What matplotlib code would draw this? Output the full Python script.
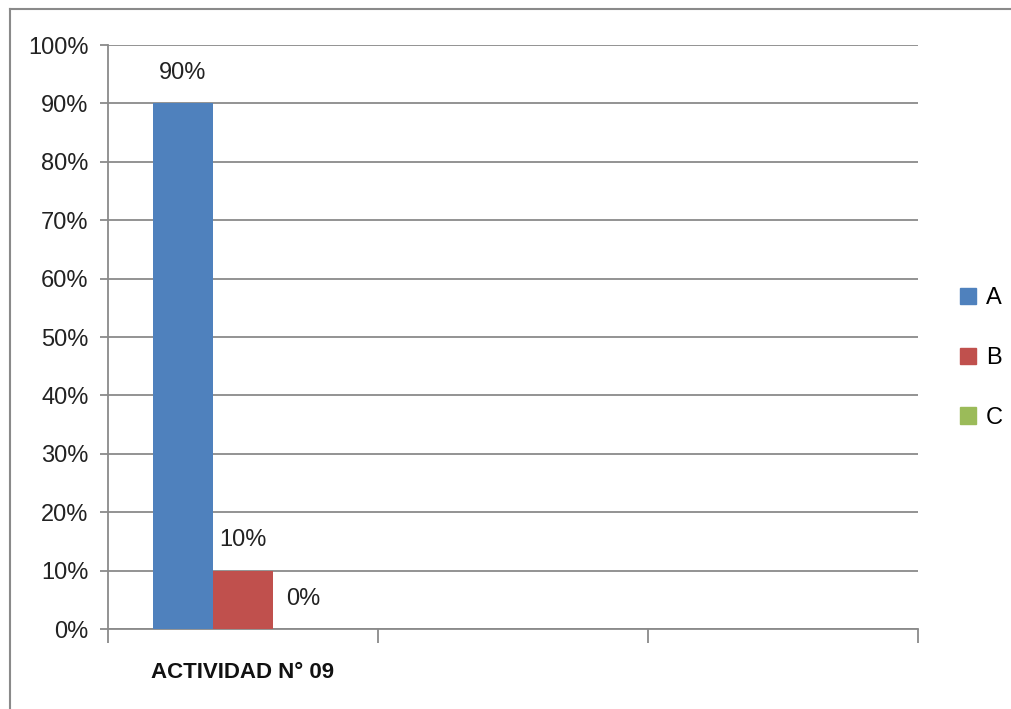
import matplotlib
matplotlib.use("Agg")
import matplotlib.pyplot as plt
from matplotlib.lines import Line2D
from matplotlib.patches import Rectangle
import numpy as np

categories = ["ACTIVIDAD N° 09", "", ""]
series_names = ["A", "B", "C"]
values_A = [0.90, None, None]
values_B = [0.10, None, None]
values_C = [0.00, None, None]
colors = ["#4F81BD", "#C0504D", "#9BBB59"]
yticks = [0, 0.1, 0.2, 0.3, 0.4, 0.5, 0.6, 0.7, 0.8, 0.9, 1.0]
ytick_labels = ["0%", "10%", "20%", "30%", "40%", "50%", "60%", "70%", "80%", "90%", "100%"]

plt.rcParams['font.family'] = ['Liberation Sans Narrow', 'Liberation Sans', 'DejaVu Sans']

fig = plt.figure(figsize=(10.11, 7.09), dpi=100)
ax = fig.add_axes([0.1068, 0.1128, 0.8012, 0.8237])

x = np.arange(len(categories))
width = 0.222
all_series = [values_A, values_B, values_C]
for i, (vals, name, col) in enumerate(zip(all_series, series_names, colors)):
    xs = [xi + (i - 1) * width for xi, v in zip(x, vals) if v is not None]
    vs = [v for v in vals if v is not None]
    bars = ax.bar(xs, vs, width=width, color=col, label=name, zorder=3)
    for b, v in zip(bars, vs):
        ax.annotate(f"{v*100:.0f}%", (b.get_x() + b.get_width() / 2, v),
                    xytext=(0, 14), textcoords="offset points",
                    ha="center", va="bottom", fontsize=17, color="#222222")

ax.set_xlim(-0.5, len(categories) - 0.5)
ax.set_ylim(0, 1.0)
ax.set_yticks(yticks)
ax.set_yticklabels(ytick_labels, fontsize=17, color="#222222")
ax.yaxis.grid(True, color="#8a8a8a", linewidth=1.3, zorder=0)
ax.set_axisbelow(True)

ax.set_xticks(np.arange(-0.5, len(categories)), minor=False)
ax.set_xticklabels([])
ax.set_xticks(x, minor=True)
ax.set_xticklabels(categories, minor=True, fontsize=16, fontweight="bold", color="#111111")
ax.tick_params(axis="x", which="major", length=10, width=1.3, color="#8a8a8a")
ax.tick_params(axis="x", which="minor", length=0, pad=24)
ax.tick_params(axis="y", length=6, width=1.3, color="#8a8a8a", pad=8)

for s in ["top", "right"]:
    ax.spines[s].set_visible(False)
for s in ["left", "bottom"]:
    ax.spines[s].set_color("#8a8a8a")
    ax.spines[s].set_linewidth(1.3)

handles = [Rectangle((0, 0), 1, 1, color=c) for c in colors]
leg = fig.legend(handles, series_names, loc="center left", bbox_to_anchor=(0.933, 0.495),
                 frameon=False, fontsize=17, handlelength=0.7, handleheight=0.7,
                 labelspacing=1.6, handletextpad=0.4, borderpad=0.2)

# outer frame (top and left visible)
fig.add_artist(Line2D([0.0099, 0.0099], [0, 0.988], transform=fig.transFigure, color="#8a8a8a", linewidth=1.5))
fig.add_artist(Line2D([0.0099, 1.0], [0.988, 0.988], transform=fig.transFigure, color="#8a8a8a", linewidth=1.5))

fig.savefig("out.png", dpi=100)
